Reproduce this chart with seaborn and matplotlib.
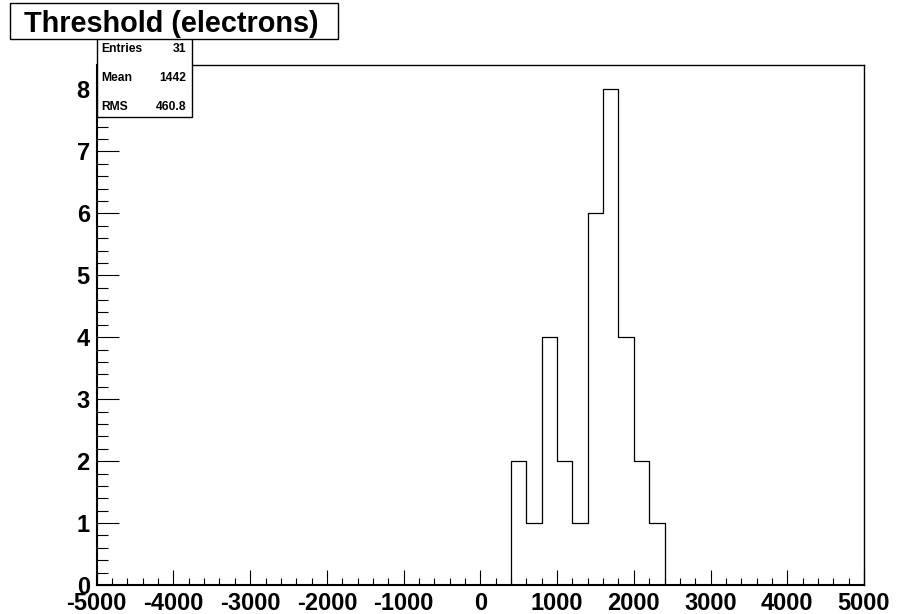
import numpy as np
import pandas as pd
import matplotlib
matplotlib.use("Agg")
import matplotlib.pyplot as plt
import seaborn as sns
from matplotlib.patches import Rectangle
from matplotlib.ticker import MultipleLocator

# ---- data ----
title = "Threshold (electrons)"
bin_centers = [500, 700, 900, 1100, 1300, 1500, 1700, 1900, 2100, 2300]
counts = [2, 1, 4, 2, 1, 6, 8, 4, 2, 1]
stats_labels = ["Entries", "Mean", "RMS"]
stats_values = ["31", "1442", "460.8"]
x_ticks = [-5000, -4000, -3000, -2000, -1000, 0, 1000, 2000, 3000, 4000, 5000]
y_ticks = [0, 1, 2, 3, 4, 5, 6, 7, 8]

sns.set_style("white")
plt.rcParams['font.family'] = ['Liberation Sans', 'DejaVu Sans']
plt.rcParams['font.weight'] = 'bold'
plt.rcParams['axes.unicode_minus'] = False
plt.rcParams['text.color'] = 'black'
plt.rcParams['xtick.color'] = 'black'
plt.rcParams['ytick.color'] = 'black'
plt.rcParams['axes.labelcolor'] = 'black'

W, H = 909, 614
fig = plt.figure(figsize=(W / 100, H / 100), dpi=100)
ax_l, ax_r, ax_t, ax_b = 96.7, 864.0, 64.7, 585.0
ax = fig.add_axes([ax_l / W, (H - ax_b) / H, (ax_r - ax_l) / W, (ax_b - ax_t) / H])

df = pd.DataFrame({"x": bin_centers, "n": counts})
sns.histplot(data=df, x="x", weights="n", binwidth=200, binrange=(-5000, 5000),
             element="step", fill=False, color="black", linewidth=0.9, ax=ax)

ax.set_xlim(-5000, 5000)
ax.set_ylim(0, 8.4)
ax.set_xlabel("")
ax.set_ylabel("")
ax.set_xticks(x_ticks)
ax.set_yticks(y_ticks)
ax.xaxis.set_minor_locator(MultipleLocator(200))
ax.yaxis.set_minor_locator(MultipleLocator(0.2))
ax.tick_params(axis='x', which='major', direction='in', length=10.8, width=0.8,
               labelsize=17, pad=5, color='black', labelcolor='black', bottom=True)
ax.tick_params(axis='x', which='minor', direction='in', length=5.4, width=0.8,
               color='black', bottom=True)
ax.tick_params(axis='y', which='major', direction='in', length=15.8, width=0.8,
               labelsize=17, pad=5, color='black', labelcolor='black', left=True)
ax.tick_params(axis='y', which='minor', direction='in', length=7.9, width=0.8,
               color='black', left=True)
for lab in ax.get_xticklabels() + ax.get_yticklabels():
    lab.set_fontweight('bold')

for side, lw in [('left', 1.5), ('bottom', 1.5), ('top', 1.0), ('right', 1.0)]:
    ax.spines[side].set_visible(True)
    ax.spines[side].set_color('black')
    ax.spines[side].set_linewidth(lw)


def fx(px):
    return px / W


def fy(py):
    return (H - py) / H


# stats box
sb_l, sb_r, sb_t, sb_b = 96.7, 191.7, 36.0, 116.7
fig.add_artist(Rectangle((fx(sb_l), fy(sb_b)), fx(sb_r) - fx(sb_l), fy(sb_t) - fy(sb_b),
                         transform=fig.transFigure, facecolor='white', edgecolor='black',
                         linewidth=1.0, zorder=5))
for lab, val, base in zip(stats_labels, stats_values, [52.0, 81.0, 110.0]):
    fig.text(fx(101.7), fy(base), lab, ha='left', va='baseline', fontsize=8.7,
             fontweight='bold', color='black', zorder=6)
    fig.text(fx(186.0), fy(base), val, ha='right', va='baseline', fontsize=8.7,
             fontweight='bold', color='black', zorder=6)

# title box
tb_l, tb_r, tb_t, tb_b = 10.0, 338.0, 3.3, 39.3
fig.add_artist(Rectangle((fx(tb_l), fy(tb_b)), fx(tb_r) - fx(tb_l), fy(tb_t) - fy(tb_b),
                         transform=fig.transFigure, facecolor='white', edgecolor='black',
                         linewidth=1.0, zorder=10))
fig.text(fx(171.5), fy(31.7), title, ha='center', va='baseline', fontsize=20.8,
         fontweight='bold', color='black', zorder=11)

fig.savefig("out.png", dpi=100)
